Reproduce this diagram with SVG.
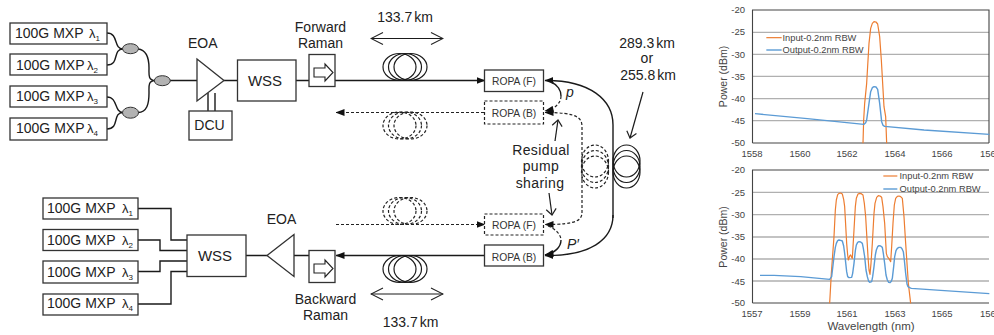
<svg xmlns="http://www.w3.org/2000/svg" width="994" height="335" viewBox="0 0 994 335">
<style>
text{font-family:"Liberation Sans",Arial,sans-serif;fill:#222}
.b{fill:#fff;stroke:#333;stroke-width:1.3}
.d{fill:#fff;stroke:#222;stroke-width:1.2;stroke-dasharray:3 2}
.l{fill:none;stroke:#1a1a1a;stroke-width:1.4}
.s{fill:none;stroke:#222;stroke-width:1.2;stroke-dasharray:3 2}
.t{font-size:14px}
.la{font-size:13px}
.m{font-size:14px}
.km{word-spacing:-2px}
.w{font-size:15px}
.sp{letter-spacing:.4px}
.r{font-size:10.300px;fill:#333}
.sub{font-size:8px}
.a{font-size:9.500px;fill:#444}
.c{font-size:9.300px;fill:#444}
.y{font-size:10.500px;fill:#444}
.g{stroke:#b0b0b0;stroke-width:1.3;fill:none}
.ax{stroke:#444;stroke-width:1.1;fill:none}
.o{fill:none;stroke:#ed7d31;stroke-width:1.2;stroke-linejoin:round;vector-effect:non-scaling-stroke}
.u{fill:none;stroke:#5b9bd5;stroke-width:1.4;stroke-linejoin:round;vector-effect:non-scaling-stroke}
</style>
<defs>
<g id="coil" class="l" style="stroke-width:1.2"><ellipse cx="-5.500" rx="16.500" ry="13.500"/><ellipse rx="16.500" ry="13.500"/><ellipse cx="5.500" rx="16.500" ry="13.500"/></g>
<g id="coild" class="s"><ellipse cx="-5.500" rx="16.500" ry="13.500"/><ellipse rx="16.500" ry="13.500"/><ellipse cx="5.500" rx="16.500" ry="13.500"/></g>
<g id="vcoil" class="l" style="stroke-width:1.2"><ellipse cy="-5.500" rx="13.500" ry="16"/><ellipse rx="13.500" ry="16"/><ellipse cy="5.500" rx="13.500" ry="16"/></g>
<g id="vcoild" class="s"><ellipse cy="-5.500" rx="13.500" ry="16"/><ellipse rx="13.500" ry="16"/><ellipse cy="5.500" rx="13.500" ry="16"/></g>
<g id="ram"><rect class="b" x="-13" y="-16" width="26" height="32"/><path d="M-8-2.500H3V-6.500L11 2 3 10.500V6.500H-8Z" fill="#fff" stroke="#222" stroke-width="1.1"/></g>
<marker id="ah" markerWidth="9" markerHeight="7" refX="8.500" refY="3.500" orient="auto-start-reverse" markerUnits="userSpaceOnUse"><path d="M0 0L9 3.500 0 7Z" fill="#111"/></marker>
<marker id="op" markerWidth="14" markerHeight="14" refX="13" refY="7" orient="auto-start-reverse" markerUnits="userSpaceOnUse"><path d="M1 1L13 7 1 13" fill="none" stroke="#222" stroke-width="1.1"/></marker>
<marker id="os" markerWidth="8" markerHeight="12" refX="7" refY="6" orient="auto" markerUnits="userSpaceOnUse"><path d="M1 1L7 6 1 11" fill="none" stroke="#222" stroke-width="1.2"/></marker>
</defs>
<g id="connectors">
<path class="l" d="M107 33C119 33 113 49 123 49M107 65C120 65 112 49 123 49M138 49C147 50 149 60 149 68 149 75 148 80 155 80.500M138 112.500C147 112 149 104 149 93 149 86 148 81 155 80.500M107 97C118 97 114 112.500 123 112.500M107 129C120 129 112 112.500 123 112.500M170 80.500H197M224 80.500H238M296 80.500H309"/>
<path class="l" d="M208 93V111M215 93V111"/>
<path class="l" marker-end="url(#ah)" d="M335 80.500H485"/>
<path class="s" marker-end="url(#ah)" d="M484 112.500H336"/>
<path class="s" marker-end="url(#ah)" d="M336 224.500H485"/>
<path class="l" marker-end="url(#ah)" d="M484 255.500H336"/>
<path class="l" marker-end="url(#ah)" d="M613 218V125C613 100 590 80 545 80.500"/>
<path class="l" marker-end="url(#ah)" d="M613 215C613 240 590 256 545 255.500"/>
<path class="s" marker-end="url(#ah)" d="M582 180V127C582 118 578 112.500 545 112.500"/>
<path class="s" marker-end="url(#ah)" d="M582 180V212C582 220 578 224.500 545 224.500"/>
<path class="l" d="M551 82C558 85 561 91 561 96"/>
<path class="s" marker-end="url(#ah)" d="M561 96C561 103 555 109 545 111"/>
<path class="s" d="M548 226C556 229 561 235 561 240"/>
<path class="l" marker-end="url(#ah)" d="M561 240C561 247 555 253 545 255"/>
<path class="l" d="M138 208.500H171V240H187M138 240H160V250.500H187M138 271.500H160V261H187M138 304H171V271.500H187M246 255.500H267M294 255.500H309"/>
<path class="l" style="stroke-width:1.1" marker-start="url(#op)" marker-end="url(#op)" d="M371 38.500H443"/>
<path class="l" style="stroke-width:1.1" marker-start="url(#op)" marker-end="url(#op)" d="M371 294H443"/>
<path class="l" style="stroke-width:1.2" marker-end="url(#os)" d="M643 92L630 138"/>
<path class="l" style="stroke-width:1.2" marker-end="url(#os)" d="M555 141L558 120"/>
<path class="l" style="stroke-width:1.2" marker-end="url(#os)" d="M549 193L552 215"/>
</g>
<g id="mxp1"><rect class="b" x="10" y="23" width="97" height="21"/><text class="t" x="15" y="38">100G MXP</text><text class="la" x="89" y="38">λ<tspan class="sub" dy="3">1</tspan></text></g>
<g id="mxp2"><rect class="b" x="10" y="54" width="97" height="21"/><text class="t" x="16" y="70">100G MXP</text><text class="la" x="87" y="70">λ<tspan class="sub" dy="3">2</tspan></text></g>
<g id="mxp3"><rect class="b" x="10" y="86" width="97" height="21"/><text class="t" x="16" y="101">100G MXP</text><text class="la" x="87" y="101">λ<tspan class="sub" dy="3">3</tspan></text></g>
<g id="mxp4"><rect class="b" x="10" y="118" width="97" height="22"/><text class="t" x="16" y="133">100G MXP</text><text class="la" x="87" y="133">λ<tspan class="sub" dy="3">4</tspan></text></g>
<g id="couplers" fill="#b3b3b3" stroke="#333"><ellipse cx="130.500" cy="48.700" rx="8" ry="5"/><ellipse cx="162.300" cy="80.700" rx="8" ry="5"/><ellipse cx="130.500" cy="112.700" rx="8" ry="5.500"/></g>
<g id="eoa1"><path class="b" d="M197 59L224 80.500 197 101Z"/><text class="m" x="188" y="48">EOA</text></g>
<g id="wss1"><rect class="b" x="237.500" y="60" width="58.500" height="41"/><text class="w" x="265" y="86" text-anchor="middle">WSS</text></g>
<g id="dcu"><rect class="b" x="189" y="111" width="43" height="29"/><text class="m" x="209.500" y="130" text-anchor="middle">DCU</text></g>
<g id="framan"><use href="#ram" x="322" y="70.500"/><text class="m" x="320.500" y="32" text-anchor="middle">Forward</text><text class="m" x="320.500" y="48" text-anchor="middle">Raman</text></g>
<g id="c1"><use href="#coil" x="405" y="67"/></g>
<g id="c2"><use href="#coild" x="405" y="125.500"/></g>
<g id="c3"><use href="#coild" x="405" y="211"/></g>
<g id="c4"><use href="#coil" x="405" y="269"/></g>
<g id="c5"><use href="#vcoild" x="595" y="166.500"/></g>
<g id="c6"><use href="#vcoil" x="626.500" y="166.500"/></g>
<g id="ropa1"><rect class="b" x="484.500" y="70" width="59" height="21.500"/><text class="r" x="514" y="85" text-anchor="middle">ROPA (F)</text></g>
<g id="ropa2"><rect class="d" x="484.500" y="101" width="59" height="23"/><text class="r" x="514" y="116.500" text-anchor="middle">ROPA (B)</text></g>
<g id="ropa3"><rect class="d" x="484.500" y="214" width="59" height="21"/><text class="r" x="514" y="229" text-anchor="middle">ROPA (F)</text></g>
<g id="ropa4"><rect class="b" x="484.500" y="245" width="59" height="21"/><text class="r" x="514" y="261" text-anchor="middle">ROPA (B)</text></g>
<g id="mxp5"><rect class="b" x="43" y="198" width="95" height="21"/><text class="t" x="47" y="213">100G MXP</text><text class="la" x="122" y="213">λ<tspan class="sub" dy="3">1</tspan></text></g>
<g id="mxp6"><rect class="b" x="43" y="229.500" width="95" height="21"/><text class="t" x="47" y="245">100G MXP</text><text class="la" x="122" y="245">λ<tspan class="sub" dy="3">2</tspan></text></g>
<g id="mxp7"><rect class="b" x="43" y="261" width="95" height="22"/><text class="t" x="47" y="277">100G MXP</text><text class="la" x="122" y="277">λ<tspan class="sub" dy="3">3</tspan></text></g>
<g id="mxp8"><rect class="b" x="43" y="294" width="95" height="21"/><text class="t" x="47" y="308">100G MXP</text><text class="la" x="122" y="308">λ<tspan class="sub" dy="3">4</tspan></text></g>
<g id="wss2"><rect class="b" x="187" y="235" width="59" height="41.500"/><text class="w" x="215" y="261" text-anchor="middle">WSS</text></g>
<g id="eoa2"><path class="b" d="M294 234.500L267 255.500 294 276.500Z"/><text class="m" x="281.500" y="224" text-anchor="middle">EOA</text></g>
<g id="braman"><use href="#ram" x="322" y="266.500"/><text class="m" x="325.500" y="304" text-anchor="middle">Backward</text><text class="m" x="325.500" y="320" text-anchor="middle">Raman</text></g>
<g id="labels">
<text class="m km" x="405" y="22" text-anchor="middle">133.7 km</text>
<text class="m km" x="410.500" y="327" text-anchor="middle">133.7 km</text>
<text class="m km" x="647" y="48" text-anchor="middle">289.3 km</text>
<text class="m sp" x="647" y="63" text-anchor="middle">or</text>
<text class="m km" x="648" y="80" text-anchor="middle">255.8 km</text>
<text class="m sp" x="541" y="155" text-anchor="middle">Residual</text>
<text class="m sp" x="541" y="171" text-anchor="middle">pump</text>
<text class="m sp" x="540" y="188" text-anchor="middle">sharing</text>
<text x="566" y="97" font-size="14" font-style="italic">p</text>
<text x="567" y="249" font-size="14" font-style="italic">P′</text>
</g>
<g id="chart1">
<path class="g" d="M752.500 32.300H989M752.500 54.300H989M752.500 76.300H989M752.500 98.700H989M752.500 120.700H989"/>
<path class="ax" d="M752.500 143H989M752.500 143V10H989V143"/>
<g transform="translate(674 0) scale(.33333)">
<path class="o" d="M567 430L569 360 572 310 578 250 585 130 590 85 595 70 600 65 606 66 611 72 617 110 622 180 630 320 635 350 638 430"/>
<path class="u" d="M243 341L400 356 570 373 575 368 578 360 585 310 590 275 595 263 600 260 606 261 611 268 617 310 623 365 627 376 632 379 750 390 946 403"/>
<path class="o" d="M277 113H323"/><path class="u" d="M277 150H323"/>
</g>
<text class="c" x="782.500" y="40.500">Input-0.2nm RBW</text>
<text class="c" x="782.500" y="53">Output-0.2nm RBW</text>
<text class="a" x="745" y="13" text-anchor="end">-20</text><text class="a" x="745" y="35" text-anchor="end">-25</text><text class="a" x="745" y="58" text-anchor="end">-30</text><text class="a" x="745" y="80" text-anchor="end">-35</text><text class="a" x="745" y="102" text-anchor="end">-40</text><text class="a" x="745" y="124" text-anchor="end">-45</text><text class="a" x="745" y="146" text-anchor="end">-50</text>
<text class="a" x="752" y="157" text-anchor="middle">1558</text><text class="a" x="800" y="157" text-anchor="middle">1560</text><text class="a" x="847" y="157" text-anchor="middle">1562</text><text class="a" x="895" y="157" text-anchor="middle">1564</text><text class="a" x="942" y="157" text-anchor="middle">1566</text><text class="a" x="980" y="157">156</text>
<text class="y" transform="translate(727 76.500) rotate(-90)" text-anchor="middle">Power (dBm)</text>
</g>
<g id="chart2">
<path class="g" d="M752.500 192.300H989M752.500 214.700H989M752.500 237H989M752.500 259H989M752.500 281H989"/>
<path class="ax" d="M752.500 303H989M752.500 303V170H989"/>
<g transform="translate(674 160) scale(.33333)">
<path class="o" d="M467 430L472 340 480 230 484 150 487 120 491 104 495 100 500 99 505 102 509 118 512 140 518 250 521 285 523 300 527 288 530 285 533 292 535 295 540 210 544 140 547 115 552 102 557 100 562 101 567 105 571 130 575 170 582 290 585 330 588 343 591 310 595 250 600 160 603 130 608 112 613 107 618 108 623 112 627 140 632 190 637 280 640 290 645 296 650 305 653 260 657 190 661 135 665 115 670 109 675 108 680 110 685 115 690 170 695 250 703 370 710 430"/>
<path class="u" d="M258 346H300L380 350 467 358 473 350 480 290 484 262 487 250 491 242 495 240 500 241 505 243 509 258 512 280 518 335 521 350 525 353 533 352 536 340 540 310 544 272 547 255 551 247 555 245 560 246 565 250 568 265 572 290 576 330 580 350 584 364 587 367 593 365 596 350 600 320 604 285 607 270 611 260 615 257 620 258 625 262 628 280 632 310 636 345 640 360 644 367 648 368 652 364 655 355 659 320 662 290 666 272 670 265 675 262 680 262 684 266 688 275 691 300 695 340 699 372 702 380 707 383 712 385 800 391 946 401"/>
<path class="o" d="M628 48H670"/><path class="u" d="M628 87H670"/>
</g>
<text class="c" x="899.500" y="179">Input-0.2nm RBW</text>
<text class="c" x="899.500" y="192">Output-0.2nm RBW</text>
<text class="a" x="745" y="173" text-anchor="end">-20</text><text class="a" x="745" y="196" text-anchor="end">-25</text><text class="a" x="745" y="218" text-anchor="end">-30</text><text class="a" x="745" y="240" text-anchor="end">-35</text><text class="a" x="745" y="262" text-anchor="end">-40</text><text class="a" x="745" y="285" text-anchor="end">-45</text><text class="a" x="745" y="306" text-anchor="end">-50</text>
<text class="a" x="752" y="317" text-anchor="middle">1557</text><text class="a" x="800" y="317" text-anchor="middle">1559</text><text class="a" x="847" y="317" text-anchor="middle">1561</text><text class="a" x="895" y="317" text-anchor="middle">1563</text><text class="a" x="942" y="317" text-anchor="middle">1565</text><text class="a" x="980" y="317">156</text>
<text class="y" transform="translate(727 237) rotate(-90)" text-anchor="middle">Power (dBm)</text>
<text class="y" style="font-size:11.500px" x="871" y="330" text-anchor="middle">Wavelength (nm)</text>
</g>
</svg>
